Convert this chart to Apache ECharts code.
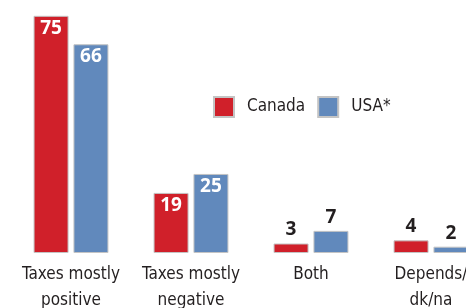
<!DOCTYPE html>
<html><head><meta charset="utf-8">
<script src="https://cdn.jsdelivr.net/npm/echarts@6/dist/echarts.min.js"></script>
<style>html,body{margin:0;padding:0;background:#fff;overflow:hidden;width:466px;height:308px}#c{width:500px;height:308px}</style>
</head><body><div id="c"></div>
<script>
const categories = ['Taxes mostly\npositive', 'Taxes mostly\nnegative', 'Both', 'Depends/\ndk/na'];
const canada = [75, 19, 3, 4];
const usa = [66, 25, 7, 2];
const seriesNames = ['Canada', 'USA*'];

const colors = ['#d0202a', '#6189bc'];
const lblFont = '"Open Sans", "DejaVu Sans", sans-serif';
const catFont = '"Liberation Sans Narrow", "DejaVu Sans Condensed", Roboto, sans-serif';

function mkData(vals) {
  return vals.map(v => ({
    value: v,
    label: v >= 10
      ? { show: true, position: 'insideTop', distance: 3, color: '#fff' }
      : { show: true, position: 'top', distance: 4, color: '#231f20' }
  }));
}

const chart = echarts.init(document.getElementById('c'), null, { renderer: 'canvas' });
chart.setOption({
  animation: false,
  grid: { left: 11, right: 9, top: 0, bottom: 55, containLabel: false, outerBoundsMode: 'none' },
  legend: {
    left: 208, top: 91,
    itemWidth: 20, itemHeight: 20, itemGap: 12,
    icon: 'rect',
    textStyle: { fontFamily: catFont, fontSize: 17, color: '#231f20', padding: [0, 0, 0, 8] },
    data: seriesNames
  },
  xAxis: {
    type: 'category', data: categories,
    axisLine: { show: false }, axisTick: { show: false },
    axisLabel: { interval: 0, fontFamily: catFont, fontSize: 17, color: '#231f20', lineHeight: 26, margin: 9 }
  },
  yAxis: { type: 'value', min: 0, max: 80, show: false, splitLine: { show: false } },
  series: [
    { name: seriesNames[0], type: 'bar', data: mkData(canada), barWidth: 35, barGap: '14%',
      itemStyle: { color: colors[0], borderColor: '#c4c4c4', borderWidth: 1 },
      label: { fontFamily: lblFont, fontSize: 19, fontWeight: 'bold' } },
    { name: seriesNames[1], type: 'bar', data: mkData(usa), barWidth: 35, barGap: '14%',
      itemStyle: { color: colors[1], borderColor: '#c4c4c4', borderWidth: 1 },
      label: { fontFamily: lblFont, fontSize: 19, fontWeight: 'bold' } }
  ]
});
</script></body></html>
